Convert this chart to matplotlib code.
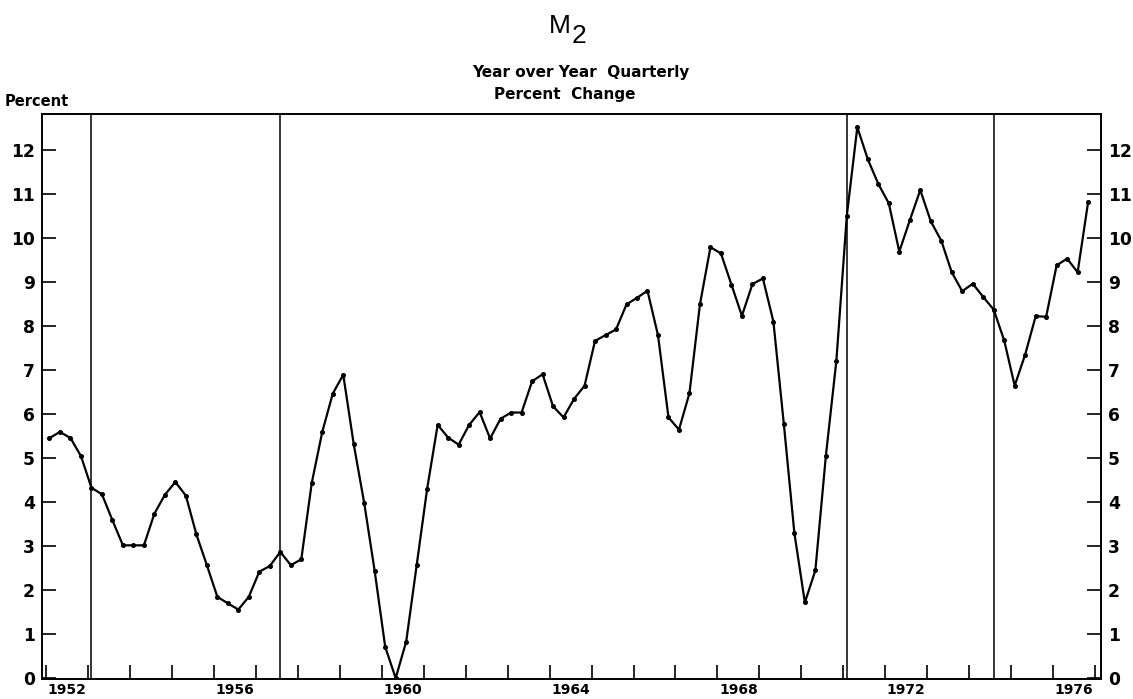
import numpy as np
import matplotlib.pyplot as plt

# M2, year over year quarterly percent change, 1952Q1 - 1976Q4
years = np.arange(1952, 1977)
m2_pct = [
    5.46, 5.60, 5.46, 5.05,    # 1952
    4.33, 4.18, 3.59, 3.02,    # 1953
    3.02, 3.02, 3.74, 4.17,    # 1954
    4.46, 4.15, 3.27, 2.57,    # 1955
    1.85, 1.70, 1.56, 1.85,    # 1956
    2.42, 2.55, 2.87, 2.57,    # 1957
    2.70, 4.44, 5.60, 6.47,    # 1958
    6.90, 5.32, 3.98, 2.43,    # 1959
    0.71, 0.00, 0.83, 2.57,    # 1960
    4.31, 5.76, 5.47, 5.31,    # 1961
    5.76, 6.05, 5.45, 5.90,    # 1962
    6.04, 6.04, 6.75, 6.91,    # 1963
    6.18, 5.93, 6.35, 6.65,    # 1964
    7.67, 7.80, 7.93, 8.50,    # 1965
    8.65, 8.81, 7.80, 5.93,    # 1966
    5.65, 6.48, 8.50, 9.80,    # 1967
    9.66, 8.95, 8.24, 8.96,    # 1968
    9.09, 8.11, 5.77, 3.30,    # 1969
    1.72, 2.45, 5.05, 7.21,    # 1970
    10.52, 12.53, 11.80, 11.24,  # 1971
    10.80, 9.70, 10.41, 11.10,   # 1972
    10.39, 9.95, 9.23, 8.80,     # 1973
    8.97, 8.67, 8.38, 7.68,      # 1974
    6.65, 7.36, 8.23, 8.22,      # 1975
    9.39, 9.54, 9.23, 10.83,     # 1976
]
# vertical reference lines (year, quarter)
vlines = [(1953, 1), (1957, 3), (1971, 1), (1974, 3)]
label_years = [1952, 1956, 1960, 1964, 1968, 1972, 1976]

# quarterly points plotted at the middle month of each quarter
t = np.array([y + (3 * q - 2) / 12 for y in years for q in range(1, 5)])
vx = [y + (3 * q - 2) / 12 for y, q in vlines]

fig = plt.figure(figsize=(11.33, 6.99), dpi=100)
ax = fig.add_axes([42 / 1133, 1 - 679 / 699, 1059 / 1133, 565 / 699])

for x in vx:
    ax.axvline(x, color='black', linewidth=1.1)

ax.plot(t, m2_pct, color='black', linewidth=1.6, marker='o', markersize=2.6)

ax.set_xlim(1951.905, 1977.14)
ax.set_ylim(-0.02, 12.83)

# year ticks mark year boundaries, labels sit in the middle of the year
ax.set_xticks(np.arange(1952, 1978))
ax.set_xticklabels([])
ax.set_xticks([y + 0.5 for y in label_years], minor=True)
ax.set_xticklabels([str(y) for y in label_years], minor=True,
                   fontsize=10, fontweight='bold', family='DejaVu Sans')
ax.tick_params(axis='x', which='major', direction='in', length=10, width=1.2)
ax.tick_params(axis='x', which='minor', length=0, pad=3)

ax.set_yticks(range(0, 13))
ax.tick_params(axis='y', direction='in', length=10, width=1.2,
               left=True, right=True, labelleft=True, labelright=True, pad=5)
for lab in ax.get_yticklabels():
    lab.set_fontsize(12.3)
    lab.set_fontweight('bold')

for sp in ax.spines.values():
    sp.set_linewidth(1.4)

fig.text(560 / 1133, 1 - 26 / 699, 'M', ha='center', va='center',
         fontsize=19, family='Liberation Sans')
fig.text(579 / 1133, 1 - 36 / 699, '2', ha='center', va='center',
         fontsize=19, family='Liberation Sans')
fig.text(581 / 1133, 1 - 72 / 699, 'Year over Year  Quarterly', ha='center',
         va='center', fontsize=11, fontweight='bold')
fig.text(565 / 1133, 1 - 94 / 699, 'Percent  Change', ha='center',
         va='center', fontsize=11, fontweight='bold')
fig.text(5 / 1133, 1 - 101 / 699, 'Percent', ha='left', va='center',
         fontsize=10.5, fontweight='bold')

fig.savefig('out.png', dpi=100)
